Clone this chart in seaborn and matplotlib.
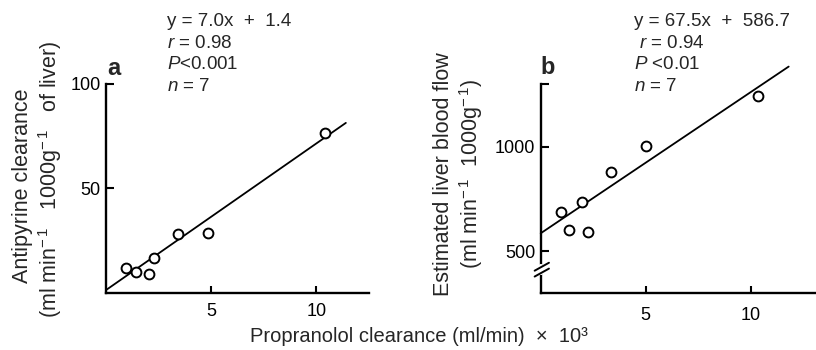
import matplotlib
matplotlib.use("Agg")
import matplotlib.pyplot as plt
import pandas as pd
import seaborn as sns

# panel a: antipyrine clearance vs propranolol clearance
a_x = [0.94, 1.42, 2.03, 2.26, 3.41, 4.86, 10.39]
a_y = [11.7, 10.2, 9.1, 16.5, 28.0, 28.7, 76.4]
a_fit = (7.0, 1.4)          # slope, intercept
a_fit_x = [0, 11.4]
a_stats = ["y = 7.0x  +  1.4", "$r$ = 0.98", "$P$<0.001", "$n$ = 7"]

# panel b: estimated liver blood flow vs propranolol clearance
b_x = [0.98, 1.33, 1.96, 2.24, 3.33, 4.99, 10.33]
b_y = [689, 602, 735, 595, 878, 1003, 1241]
b_fit = (67.5, 586.7)
b_fit_x = [0, 11.8]
b_stats = ["y = 67.5x  +  586.7", " $r$ = 0.94", "$P$ <0.01", "$n$ = 7"]

sns.set_theme(style="ticks")
plt.rcParams["font.family"] = ["Liberation Sans", "DejaVu Sans"]
plt.rcParams["mathtext.fontset"] = "custom"
plt.rcParams["mathtext.rm"] = "Liberation Sans"
plt.rcParams["mathtext.it"] = "Liberation Sans:italic"
plt.rcParams["mathtext.bf"] = "Liberation Sans:bold"

W, H = 816, 350
fig = plt.figure(figsize=(W / 100, H / 100), dpi=100)


def px(x, y):
    return x / W, 1 - y / H


ax_a = fig.add_axes([106 / W, 57 / H, 263 / W, 209.5 / H])
ax_b = fig.add_axes([540.7 / W, 56.7 / H, 275.3 / W, 209.3 / H])


def draw_panel(ax, xs, ys, fit, fit_x, xlim, ylim, yticks, yticklabels, xpad):
    df = pd.DataFrame({"x": xs, "y": ys})
    line = pd.DataFrame({"x": fit_x, "y": [fit[0] * v + fit[1] for v in fit_x]})
    sns.lineplot(data=line, x="x", y="y", ax=ax, color="black", linewidth=1.3)
    ax.lines[-1].set_clip_on(False)
    sns.scatterplot(data=df, x="x", y="y", ax=ax, s=50, facecolor="white",
                    edgecolor="black", linewidth=1.4, zorder=5, clip_on=False)
    ax.set_xlim(*xlim)
    ax.set_ylim(*ylim)
    ax.set_xticks([5, 10])
    ax.set_yticks(yticks)
    ax.set_yticklabels(yticklabels)
    ax.set(xlabel="", ylabel="")
    sns.despine(ax=ax)
    for s in ["left", "bottom"]:
        ax.spines[s].set_linewidth(1.7)
        ax.spines[s].set_color("black")
    ax.tick_params(axis="y", direction="in", length=6, width=1.5, pad=4,
                   labelsize=13, colors="black")
    ax.tick_params(axis="x", direction="in", length=5, width=1.5, pad=xpad,
                   labelsize=13, colors="black")
    ax.set_facecolor("none")


draw_panel(ax_a, a_x, a_y, a_fit, a_fit_x, (0, 12.5), (0, 100),
           [50, 100], ["50", "100"], 7)
draw_panel(ax_b, b_x, b_y, b_fit, b_fit_x, (0, 13.1), (300, 1300),
           [500, 1000, 1300], ["500", "1000", ""], 10)

# axis break on panel b
tr = ax_b.get_yaxis_transform()
ax_b.plot([0, 0], [398, 432], transform=tr, color="white", linewidth=3,
          clip_on=False, zorder=6)
for y0 in [380, 408]:
    ax_b.plot([-0.022, 0.03], [y0, y0 + 38], transform=tr, color="black",
              linewidth=1.4, clip_on=False, zorder=7)

# panel letters
fig.text(*px(107, 75), "a", fontsize=17, fontweight="bold", ha="left", va="baseline")
fig.text(*px(540, 74), "b", fontsize=17, fontweight="bold", ha="left", va="baseline")

# statistics
for i, base in enumerate([26, 47.5, 69, 91]):
    fig.text(*px(167, base), a_stats[i], fontsize=13.5, ha="left", va="baseline")
    fig.text(*px(634, base), b_stats[i], fontsize=13.5, ha="left", va="baseline")

# y labels
fig.text(*px(23, 186), "Antipyrine clearance", fontsize=15.5, rotation=90,
         ha="center", va="center")
fig.text(*px(50, 179), "(ml min$^{-\\,1}$   1000g$^{-\\,1}$   of liver)", fontsize=15.5,
         rotation=90, ha="center", va="center")
fig.text(*px(444, 174), "Estimated liver blood flow", fontsize=15.5, rotation=90,
         ha="center", va="center")
fig.text(*px(471, 174), "(ml min$^{-\\,1}$  1000g$^{-\\,1}$)", fontsize=15.5,
         rotation=90, ha="center", va="center")

# shared x label
fig.text(*px(419, 337), "Propranolol clearance (ml/min)  ×  10³", fontsize=14.5,
         ha="center", va="center")

fig.savefig("out.png", dpi=100, facecolor="white")
